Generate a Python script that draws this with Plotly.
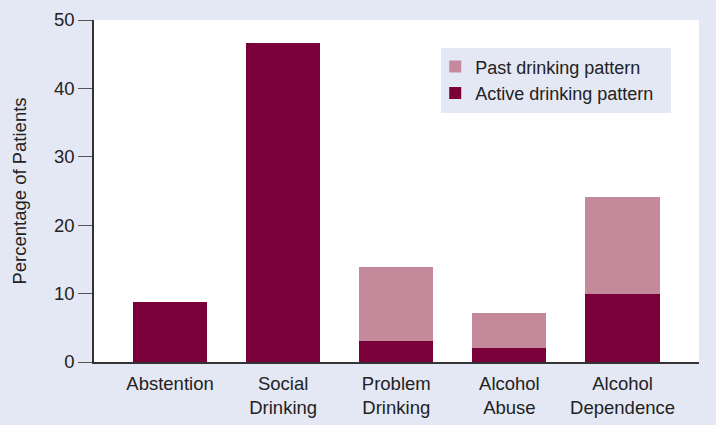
import plotly.graph_objects as go

categories = ["Abstention", "Social<br>Drinking", "Problem<br>Drinking", "Alcohol<br>Abuse", "Alcohol<br>Dependence"]
active = [8.8, 46.6, 3.0, 2.1, 10.0]
past = [0, 0, 10.9, 5.0, 14.1]
y_ticks = [0, 10, 20, 30, 40, 50]

ACTIVE_COLOR = "#7a003a"
PAST_COLOR = "#c48a9c"
BG = "#e4e8f4"
FONT = "Liberation Sans, Arial, sans-serif"

fig = go.Figure()
fig.add_trace(go.Bar(x=categories, y=active, name="Active drinking pattern",
                     marker=dict(color=ACTIVE_COLOR, line=dict(width=0)), width=0.655))
fig.add_trace(go.Bar(x=categories, y=past, name="Past drinking pattern",
                     marker=dict(color=PAST_COLOR, line=dict(width=0)), width=0.655))

fig.update_layout(
    width=716, height=425,
    barmode="stack",
    paper_bgcolor=BG, plot_bgcolor="white",
    margin=dict(l=94, r=17, t=20, b=63),
    font=dict(family=FONT, size=18.5, color="#222"),
    showlegend=True,
    legend=dict(x=0.564, y=0.917, xanchor="left", yanchor="top",
                bgcolor="rgba(0,0,0,0)", traceorder="reversed",
                font=dict(size=18, color="#222"), tracegroupgap=0, itemwidth=30),
    shapes=[dict(type="rect", xref="paper", yref="paper",
                 x0=(441 - 94) / 605, x1=(671 - 94) / 605,
                 y0=(362 - 113) / 342, y1=(362 - 48) / 342,
                 fillcolor=BG, line=dict(width=0), layer="below")],
)
fig.update_xaxes(type="category", range=[-0.672, 4.676], showline=True, linecolor="#333",
                 linewidth=1.5, ticks="", showgrid=False, ticklabelstandoff=4, automargin=False,
                 tickfont=dict(size=18.5, color="#222"))
fig.update_yaxes(range=[0, 50], tickvals=y_ticks, showline=True, linecolor="#333", linewidth=1.5,
                 ticks="outside", ticklen=14, tickcolor="#555", tickwidth=1, showgrid=False,
                 zeroline=False, automargin=False, tickfont=dict(size=18.5, color="#222"),
                 title=dict(text="Percentage of Patients", font=dict(size=18.5, color="#222"), standoff=22))

fig.write_html("out.html", config={"displayModeBar": False},
               post_script="document.body.style.margin='0';document.body.style.padding='0';")
